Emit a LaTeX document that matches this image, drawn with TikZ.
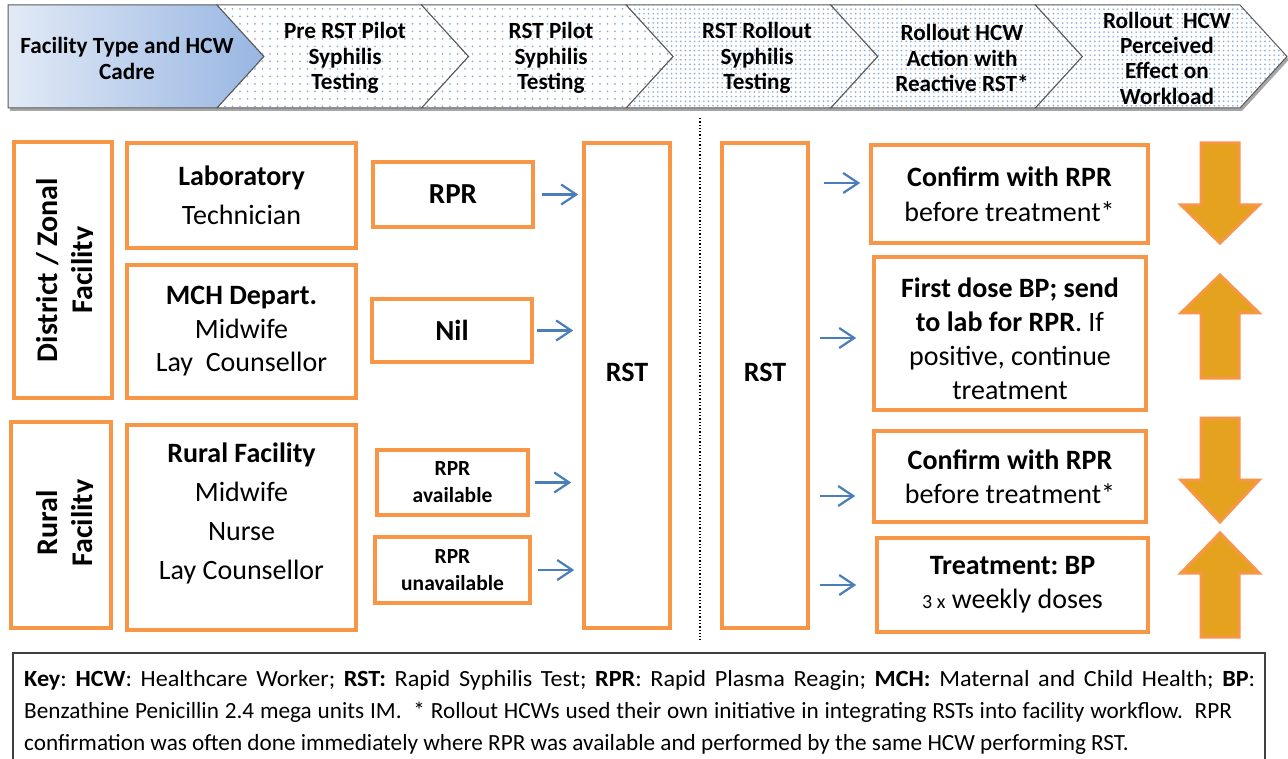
\documentclass[tikz,border=0pt]{standalone}
\usepackage{graphicx}
\usepackage{fontspec}
\setmainfont{Carlito}
\frenchspacing
\usetikzlibrary{arrows.meta,patterns.meta,calc}
\definecolor{borange}{HTML}{F79646}
\definecolor{gold}{HTML}{E5A21F}
\definecolor{arrblue}{HTML}{4A7EBB}
\definecolor{dotblue}{HTML}{8FAFDB}
\definecolor{hdrline}{HTML}{5A5A5A}
\definecolor{blueL}{HTML}{E2EAF6}
\definecolor{blueD}{HTML}{98B6E2}
\definecolor{keyline}{HTML}{404040}
\tikzset{
  obox/.style={draw=borange, line width=3.6pt, fill=white, inner sep=0pt, align=center},
  btxt/.style={font=\fontsize{28}{38}\selectfont, align=center, inner sep=0pt},
  vtxt/.style={font=\fontsize{30}{36}\selectfont\bfseries, rotate=90, anchor=base, inner sep=0pt},
  htxt/.style={font=\fontsize{23.2}{25.3}\selectfont\bfseries, align=center, inner sep=0pt},
  chevsparse/.style={draw=hdrline, line width=1pt, preaction={fill=white}, pattern={Dots[distance=7.5pt,radius=1pt]}, pattern color=dotblue},
  chevdense/.style={draw=hdrline, line width=1pt, preaction={fill=white}, pattern={Dots[distance=4.6pt,radius=0.95pt]}, pattern color=dotblue},
  arr/.style={draw=arrblue, line width=2.2pt, -{Straight Barb[length=15pt,width=20pt,line width=2.2pt]}},
  bigarr/.style={fill=gold, draw=borange, line width=3pt, line join=miter},
  keytxt/.style={font=\fontsize{23.2}{32}\selectfont, anchor=base west, inner sep=0pt},
}
\begin{document}
\begin{tikzpicture}[x=1pt,y=-1pt]
\useasboundingbox (0,0) rectangle (1288,759);
\clip (0,0) rectangle (1288,759);
\fill[white] (0,0) rectangle (1288,759);

% ---------- header band ----------
\fill[black!35] (10,8) -- (1242,8) -- (1289,59.5) -- (1242,111) -- (10,111) -- cycle;
\shade[left color=blueL, right color=blueD, draw=hdrline, line width=1pt]
  (8,5) -- (217,5) -- (264,56.5) -- (217,108) -- (8,108) -- cycle;
\path[chevsparse] (217,5) -- (421.6,5) -- (468.6,56.5) -- (421.6,108) -- (217,108) -- (264,56.5) -- cycle;
\path[chevsparse] (421.6,5) -- (626.2,5) -- (673.2,56.5) -- (626.2,108) -- (421.6,108) -- (468.6,56.5) -- cycle;
\path[chevdense] (626.2,5) -- (830.8,5) -- (877.8,56.5) -- (830.8,108) -- (626.2,108) -- (673.2,56.5) -- cycle;
\path[chevdense] (830.8,5) -- (1035.4,5) -- (1082.4,56.5) -- (1035.4,108) -- (830.8,108) -- (877.8,56.5) -- cycle;
\path[chevdense] (1035.4,5) -- (1240,5) -- (1287,56.5) -- (1240,108) -- (1035.4,108) -- (1082.4,56.5) -- cycle;

\node[htxt] (h1) at (127,58.5) {Facility Type and HCW\\Cadre};
\node[htxt] (h2) at (345,58) {Pre RST Pilot\\Syphilis\\Testing};
\node[htxt] (h3) at (551,58) {RST Pilot\\Syphilis\\Testing};
\node[htxt] (h4) at (757,58) {RST Rollout\\Syphilis\\Testing};
\node[htxt] (h5) at (962,58) {Rollout HCW\\Action with\\Reactive RST*};
\node[htxt] (h6) at (1167,58) {Rollout\ \ HCW\\Perceived\\Effect on\\Workload};

% ---------- left column ----------
\node[obox, minimum width=98pt, minimum height=256pt] (distz) at (63,270) {};
\begin{scope}
  \clip (14,142) rectangle (92.5,398);
  \node[vtxt] (distzt1) at (57,270) {District / Zonal};
  \node[vtxt] (distzt2) at (92,270) {Facility};
\end{scope}
\node[obox, minimum width=100pt, minimum height=206pt] (rural) at (61,525) {};
\begin{scope}
  \clip (11,422) rectangle (92.5,628);
  \node[vtxt] (ruralt1) at (57,523) {Rural};
  \node[vtxt] (ruralt2) at (92,523) {Facility};
\end{scope}

\node[obox, btxt, minimum width=229pt, minimum height=105pt, font=\fontsize{28}{39}\selectfont] (lab) at (241.5,195.5) {\textbf{Laboratory}\\Technician};
\node[obox, btxt, minimum width=229pt, minimum height=133pt, font=\fontsize{28}{33.5}\selectfont] (mch) at (241.5,331.5) {\textbf{MCH Depart.}\\Midwife\\Lay\ \ Counsellor};
\node[obox, minimum width=229pt, minimum height=205pt] (ruralf) at (241.5,527.5) {};
\node[btxt, font=\fontsize{28}{39}\selectfont] (ruralft) at (241.5,513.5) {\textbf{Rural Facility}\\Midwife\\Nurse\\Lay Counsellor};

% ---------- pre-pilot column ----------
\node[obox, btxt, minimum width=160pt, minimum height=65pt, font=\fontsize{29}{35}\selectfont\bfseries] (rpr) at (453,194.5) {RPR};
\node[obox, btxt, minimum width=160pt, minimum height=63pt, font=\fontsize{29}{35}\selectfont\bfseries] (nil) at (452,330.5) {Nil};
\node[obox, btxt, minimum width=151pt, minimum height=65pt, font=\fontsize{21.5}{27}\selectfont\bfseries] (rpra) at (452.5,482.5) {RPR\\available};
\node[obox, btxt, minimum width=155pt, minimum height=66pt, font=\fontsize{21.5}{27}\selectfont\bfseries] (rpru) at (452.5,570) {RPR\\unavailable};

% ---------- RST columns ----------
\node[obox, minimum width=86pt, minimum height=485pt] (rstl) at (627,385.5) {};
\node[btxt, font=\fontsize{28}{34}\selectfont\bfseries] (rstlt) at (627,372) {RST};
\draw[dotted, line width=1.3pt] (700,118) -- (700,640);
\node[obox, minimum width=86pt, minimum height=485pt] (rstr) at (765,385.5) {};
\node[btxt, font=\fontsize{28}{34}\selectfont\bfseries] (rstrt) at (765,372) {RST};

% ---------- action boxes ----------
\node[obox, btxt, minimum width=277pt, minimum height=98pt, font=\fontsize{28}{35}\selectfont] (c1) at (1009.5,194) {\textbf{Confirm with RPR}\\before treatment*};
\node[obox, minimum width=272pt, minimum height=153pt] (fd) at (1010,333.5) {};
\node[btxt, font=\fontsize{28}{34}\selectfont] (fdt) at (1010,339) {\textbf{First dose BP; send}\\\textbf{to lab for RPR}. If\\positive, continue\\treatment};
\node[obox, btxt, minimum width=272pt, minimum height=91pt, font=\fontsize{28}{34}\selectfont] (c2) at (1010,476.5) {\textbf{Confirm with RPR}\\before treatment*};
\node[obox, btxt, minimum width=271pt, minimum height=94pt, font=\fontsize{28}{34}\selectfont] (tr) at (1012.5,585) {\textbf{Treatment: BP}\\{\fontsize{20}{20}\selectfont 3 x} weekly doses};

% ---------- blue arrows ----------
\draw[arr, shorten <=7pt, shorten >=4pt] (rpr.east) -- (rpr.east -| rstl.west);
\draw[arr, shorten <=3pt, shorten >=9pt] (nil.east) -- (nil.east -| rstl.west);
\draw[arr, shorten <=5pt, shorten >=11pt] (rpra.east) -- (rpra.east -| rstl.west);
\draw[arr, shorten <=6pt, shorten >=8pt] (rpru.east) -- (rpru.east -| rstl.west);
\coordinate (t1) at ([yshift=11pt]c1.west);
\coordinate (t2) at ([yshift=-4.5pt]fd.west);
\coordinate (t3) at ([yshift=-19.5pt]c2.west);
\coordinate (t4) at (tr.west);
\draw[arr, shorten <=14pt, shorten >=9pt] (rstr.east |- t1) -- (t1);
\draw[arr, shorten <=10pt, shorten >=16pt] (rstr.east |- t2) -- (t2);
\draw[arr, shorten <=10pt, shorten >=17pt] (rstr.east |- t3) -- (t3);
\draw[arr, shorten <=10pt, shorten >=19pt] (rstr.east |- t4) -- (t4);

% ---------- workload arrows ----------
\path[bigarr] (1201,143) -- (1239,143) -- (1239,205) -- (1259,205) -- (1220,243) -- (1181,205) -- (1201,205) -- cycle;
\path[bigarr] (1201,378) -- (1239,378) -- (1239,313) -- (1259,313) -- (1220,275) -- (1181,313) -- (1201,313) -- cycle;
\path[bigarr] (1201,418) -- (1239,418) -- (1239,480) -- (1259,480) -- (1220,522) -- (1181,480) -- (1201,480) -- cycle;
\path[bigarr] (1201,637) -- (1239,637) -- (1239,573) -- (1259,573) -- (1220,533) -- (1181,573) -- (1201,573) -- cycle;

% ---------- key ----------
\node[draw=keyline, line width=2pt, fill=white, minimum width=1252pt, minimum height=130pt, anchor=north west, inner sep=0pt] (keybox) at (12,652) {};
\node[keytxt] (k1) at (24,686) {\resizebox{1231pt}{\height}{\makebox[1180pt][s]{\textbf{Key}: \textbf{HCW}: Healthcare Worker; \textbf{RST:} Rapid Syphilis Test; \textbf{RPR}: Rapid Plasma Reagin; \textbf{MCH:} Maternal and Child Health; \textbf{BP}:}}};
\node[keytxt] (k2) at (24,718) {\makebox[1208pt][s]{Benzathine Penicillin 2.4 mega units IM.\ \ * Rollout HCWs used their own initiative in integrating RSTs into facility workflow.\ \ RPR}};
\node[keytxt] (k3) at (24,750) {confirmation was often done immediately where RPR was available and performed by the same HCW performing RST.};
\end{tikzpicture}
\end{document}
